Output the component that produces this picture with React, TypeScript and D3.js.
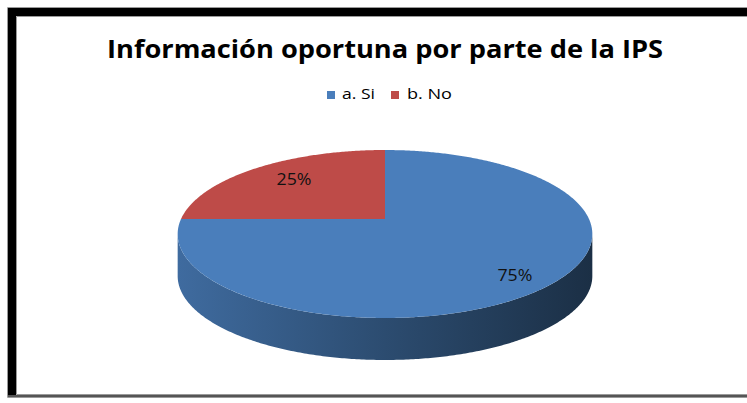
import React from 'react';
import * as d3 from 'd3';

// ---- data ----
const categories: string[] = ['a. Si', 'b. No'];
const values: number[] = [75, 25];
const chartTitle = 'Información oportuna por parte de la IPS';

// ---- style ----
const sliceColors: string[] = ['#4A7EBB', '#BE4B48'];

const W = 747;
const H = 403;

// perspective ellipse geometry
const CX = 385;
const CY = 219;
const RA = 204;
const RB = 81.3;
const PERSP = 0.1786;
const DEPTH = 42;

function proj(theta: number, r = 1, dz = 0, p = PERSP, a = RA, b = RB): [number, number] {
  const u = r * Math.sin(theta);
  const v = r * Math.cos(theta);
  const s = 1 / (1 + p * v);
  return [CX + a * u * s, CY - b * v * s + dz];
}

function arcPoints(a0: number, a1: number, dz = 0): [number, number][] {
  const n = Math.max(2, Math.ceil(Math.abs(a1 - a0) / 0.01));
  const pts: [number, number][] = [];
  for (let i = 0; i <= n; i++) {
    const t = a0 + ((a1 - a0) * i) / n;
    pts.push(proj(t, 1, dz));
  }
  return pts;
}

export default function App() {
  const pie = d3.pie<number>().sort(null).value((d) => d);
  const arcs = pie(values);
  const total = d3.sum(values);
  const fmt = d3.format('.0%');
  const line = d3.line();

  const thR = Math.acos(-PERSP); // rightmost silhouette angle
  const thL = 2 * Math.PI - thR; // leftmost silhouette angle

  const sides = arcs
    .map((a, i) => {
      const lo = Math.max(a.startAngle, thR);
      const hi = Math.min(a.endAngle, thL);
      if (lo >= hi) return null;
      const top = arcPoints(lo, hi);
      const bottom = arcPoints(hi, lo, DEPTH);
      return { i, d: line([...top, ...bottom])! + 'Z' };
    })
    .filter(Boolean) as { i: number; d: string }[];

  const tops = arcs.map((a, i) => {
    const pts = [proj(0, 0), ...arcPoints(a.startAngle, a.endAngle)];
    return { i, d: line(pts)! + 'Z' };
  });

  const labels = arcs.map((a, i) => {
    const mid = (a.startAngle + a.endAngle) / 2;
    const [x, y] = proj(mid, 0.742, 0, 0.336, RA, 88);
    return { i, x, y, text: fmt(a.data / total) };
  });

  const sideStops = (base: string) => {
    const c = d3.rgb(base);
    const f = (k: number) => d3.rgb(c.r * k, c.g * k, c.b * k).formatHex();
    return [
      { off: 0, col: f(0.85) },
      { off: 0.5, col: f(0.6) },
      { off: 1, col: f(0.37) },
    ];
  };

  const [lx] = proj(thL);
  const [rx] = proj(thR);

  const legendX = [327, 391];
  const legendTextX = [342, 407];
  const legendTextW = [33, 45];

  return (
    <svg
      width={W}
      height={H}
      style={{ position: 'absolute', left: 0, top: 0, background: '#fff' }}
      fontFamily="'Open Sans', 'Noto Sans', sans-serif"
    >
      <defs>
        {arcs.map((a, i) => (
          <linearGradient
            key={i}
            id={`side${i}`}
            gradientUnits="userSpaceOnUse"
            x1={lx}
            x2={rx}
            y1={0}
            y2={0}
          >
            {sideStops(sliceColors[i]).map((s, j) => (
              <stop key={j} offset={s.off} stopColor={s.col} />
            ))}
          </linearGradient>
        ))}
      </defs>

      <rect x={0} y={0} width={W} height={H} fill="#fff" />

      {/* frame */}
      <rect x={8} y={8} width={W} height={8} fill="#000" />
      <rect x={8} y={8} width={8} height={389} fill="#000" />
      <rect x={8} y={395} width={W} height={2} fill="#555" />
      <path d={`M${W},7.5H7.5V397.5H${W}`} fill="none" stroke="#9a9a9a" strokeWidth={1} />
      <path d={`M${W},16.5H16.5V394.5H${W}`} fill="none" stroke="#9a9a9a" strokeWidth={1} />

      {/* title */}
      <text
        x={107}
        y={58}
        fontSize={25}
        fontWeight="bold"
        fill="#000"
        textLength={556}
        lengthAdjust="spacingAndGlyphs"
      >
        {chartTitle}
      </text>

      {/* legend */}
      {categories.map((c, i) => (
        <g key={c}>
          <rect x={legendX[i]} y={91} width={8} height={8} fill={sliceColors[i]} />
          <text
            x={legendTextX[i]}
            y={99}
            fontSize={14}
            fill="#000"
            textLength={legendTextW[i]}
            lengthAdjust="spacingAndGlyphs"
          >
            {c}
          </text>
        </g>
      ))}

      {/* pie sides */}
      {sides.map((s) => (
        <path key={`s${s.i}`} d={s.d} fill={`url(#side${s.i})`} />
      ))}
      {/* pie tops */}
      {tops.map((t) => (
        <path key={`t${t.i}`} d={t.d} fill={sliceColors[t.i]} />
      ))}

      {/* labels */}
      {labels.map((l) => (
        <text
          key={`l${l.i}`}
          x={l.x}
          y={l.y + 5.5}
          fontSize={15.5}
          fill="#111"
          textAnchor="middle"
          textLength={35}
          lengthAdjust="spacingAndGlyphs"
        >
          {l.text}
        </text>
      ))}
    </svg>
  );
}
